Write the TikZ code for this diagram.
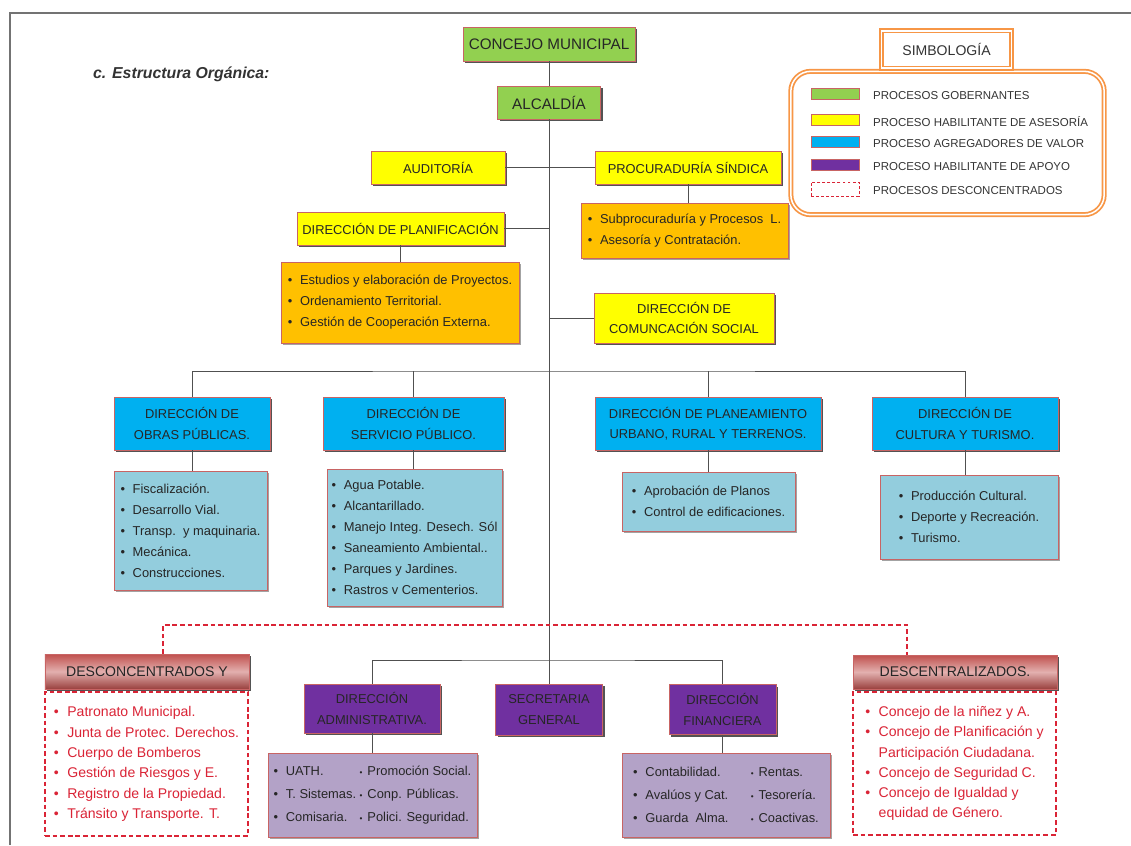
\documentclass[tikz,border=0pt]{standalone}
\usepackage{fontspec}
\setmainfont{Liberation Sans}
\usetikzlibrary{shadows}

\definecolor{verde}{HTML}{92D050}
\definecolor{amarillo}{HTML}{FFFF00}
\definecolor{naranja}{HTML}{FFC000}
\definecolor{azul}{HTML}{00B0F0}
\definecolor{celeste}{HTML}{93CDDD}
\definecolor{morado}{HTML}{7030A0}
\definecolor{lila}{HTML}{B3A2C7}
\definecolor{rojo}{HTML}{C0504D}
\definecolor{rojotxt}{HTML}{DA2436}
\definecolor{borde}{HTML}{C86464}
\definecolor{legnar}{HTML}{F79646}
\definecolor{gris}{HTML}{505050}

\newcommand{\itm}[1]{\makebox[0.95em][l]{\textbullet}#1}
\newcommand{\sitm}[1]{\makebox[0.6em][l]{\scriptsize\textbullet}#1}

\begin{document}
\begin{tikzpicture}[x=0.03cm, y=-0.03cm,
    cajabase/.style={draw=borde, line width=0.6pt, inner sep=2pt, text=black!85},
    caja/.style={cajabase, align=center, font=\fontsize{11}{17.5}\selectfont,
                drop shadow={shadow xshift=2pt, shadow yshift=-2pt, fill=black!75, opacity=0.9}},
    lista/.style={cajabase, align=left, font=\fontsize{11}{18}\selectfont,
                drop shadow={shadow xshift=1.5pt, shadow yshift=-1.5pt, fill=black!45, opacity=0.8}},
    cabecera/.style={caja, top color=rojo, bottom color=rojo!80!black, middle color=rojo!45!white,
                font=\fontsize{12}{14}\selectfont},
    rlista/.style={draw=rojotxt, line width=0.9pt, dash pattern=on 4pt off 2.5pt, fill=white,
                align=left, inner sep=2pt, text=rojotxt, font=\fontsize{12}{17.3}\selectfont},
    enlace/.style={draw=gris, line width=0.8pt},
    renlace/.style={draw=rojotxt, line width=0.9pt, dash pattern=on 4pt off 2.5pt}]
    \useasboundingbox (0,0) rectangle (1131,845);
    \draw[gris!80, line width=1.6pt] (10,845) -- (10,13) -- (1131,13);

    \node[anchor=west, text=black!80, font=\bfseries\itshape\fontsize{13.5}{16}\selectfont] (titulo) at (89,74) {c. Estructura Orgánica:};

    % simbologia
    \node[draw=legnar, double=white, double distance=1.3pt, line width=1.5pt, rounded corners=0.6cm,
          minimum width=9.4cm, minimum height=4.3cm] (simbologia-marco) at (947.5,143) {};
    \node[draw=legnar, double=white, double distance=1.3pt, line width=1.5pt, fill=white,
          minimum width=3.9cm, minimum height=1.12cm, font=\fontsize{12}{14}\selectfont, text=black!80] (simbologia) at (946.5,49.5) {SIMBOLOGÍA};
    \foreach \col/\yy/\txt [count=\n] in {verde/93.5/PROCESOS GOBERNANTES, amarillo/119.5/PROCESO HABILITANTE DE ASESORÍA,
                                          azul/142/PROCESO AGREGADORES DE VALOR, morado/164.5/PROCESO HABILITANTE DE APOYO} {
        \node[draw=borde, fill=\col, minimum width=1.44cm, minimum height=0.33cm, inner sep=0pt] (muestra\n) at (835,\yy) {};
        \node[anchor=west, text=black!80, font=\fontsize{9.8}{12}\selectfont] (leyenda\n) at (869,\yy+2) {\txt};
    }
    \node[draw=rojotxt, line width=0.8pt, dash pattern=on 2.5pt off 1.8pt, minimum width=1.44cm, minimum height=0.42cm] (muestra5) at (835,189.5) {};
    \node[anchor=west, text=black!80, font=\fontsize{9.8}{12}\selectfont] (leyenda5) at (869,191) {PROCESOS DESCONCENTRADOS};

    % procesos gobernantes y asesoria
    \node[caja, fill=verde, minimum width=5.16cm, minimum height=1.02cm, font=\fontsize{13}{15}\selectfont] (concejo) at (549,44) {CONCEJO MUNICIPAL};
    \node[caja, fill=verde, minimum width=3.09cm, minimum height=0.99cm, font=\fontsize{13}{15}\selectfont] (alcaldia) at (549,102.5) {ALCALDÍA};
    \node[caja, fill=amarillo, minimum width=4.02cm, minimum height=0.99cm] (auditoria) at (438,167.5) {AUDITORÍA};
    \node[caja, fill=amarillo, minimum width=5.58cm, minimum height=0.99cm] (procuraduria) at (688,167.5) {PROCURADURÍA SÍNDICA};
    \node[lista, fill=naranja, minimum width=6.21cm, minimum height=1.65cm] (procuraduria-sub) at (684.5,230.5)
        {\itm{Subprocuraduría y Procesos\ \ L.}\\\itm{Asesoría y Contratación.}};
    \node[caja, fill=amarillo, minimum width=6.21cm, minimum height=0.99cm] (planificacion) at (400.5,228.5) {DIRECCIÓN DE PLANIFICACIÓN};
    \node[lista, fill=naranja, minimum width=7.14cm, minimum height=2.43cm] (planificacion-sub) at (400,302.5)
        {\itm{Estudios y elaboración de Proyectos.}\\\itm{Ordenamiento Territorial.}\\\itm{Gestión de Cooperación Externa.}};
    \node[caja, fill=amarillo, minimum width=5.4cm, minimum height=1.5cm, font=\fontsize{11}{17}\selectfont] (comunicacion) at (684,318)
        {DIRECCIÓN DE\\COMUNCACIÓN SOCIAL};

    % agregadores de valor
    \node[caja, fill=azul, minimum width=4.68cm, minimum height=1.59cm] (obras) at (192,423.5) {DIRECCIÓN DE\\OBRAS PÚBLICAS.};
    \node[caja, fill=azul, minimum width=5.43cm, minimum height=1.59cm] (servicio) at (413.5,423.5) {DIRECCIÓN DE\\SERVICIO PÚBLICO.};
    \node[caja, fill=azul, minimum width=6.78cm, minimum height=1.59cm] (planeamiento) at (708,423.5) {DIRECCIÓN DE PLANEAMIENTO\\URBANO, RURAL Y TERRENOS.};
    \node[caja, fill=azul, minimum width=5.58cm, minimum height=1.59cm] (cultura) at (965,423.5) {DIRECCIÓN DE\\CULTURA Y TURISMO.};
    \node[lista, fill=celeste, minimum width=4.59cm, minimum height=3.57cm] (obras-sub) at (190.5,530.5)
        {\itm{Fiscalización.}\\\itm{Desarrollo Vial.}\\\itm{Transp.\ \ y maquinaria.}\\\itm{Mecánica.}\\\itm{Construcciones.}};
    \node[lista, fill=celeste, minimum width=5.25cm, minimum height=4.11cm] (servicio-sub) at (414.5,537.5)
        {\itm{Agua Potable.}\\\itm{Alcantarillado.}\\\itm{Manejo Integ. Desech. Sól}\\\itm{Saneamiento Ambiental..}\\\itm{Parques y Jardines.}\\\itm{Rastros v Cementerios.}};
    \node[lista, fill=celeste, minimum width=5.19cm, minimum height=1.77cm] (planeamiento-sub) at (708.5,501.5)
        {\itm{Aprobación de Planos}\\\itm{Control de edificaciones.}};
    \node[lista, fill=celeste, minimum width=5.34cm, minimum height=2.52cm] (cultura-sub) at (969,517)
        {\itm{Producción Cultural.}\\\itm{Deporte y Recreación.}\\\itm{Turismo.}};

    % apoyo
    \node[caja, fill=morado, minimum width=4.08cm, minimum height=1.47cm, font=\fontsize{11}{18}\selectfont] (administrativa) at (372,708.5) {DIRECCIÓN\\ADMINISTRATIVA.};
    \node[caja, fill=morado, minimum width=3.21cm, minimum height=1.53cm, font=\fontsize{11}{18}\selectfont] (secretaria) at (549,709.5) {SECRETARIA\\GENERAL};
    \node[caja, fill=morado, minimum width=3.21cm, minimum height=1.5cm, font=\fontsize{11}{18}\selectfont] (financiera) at (722.5,709.5) {DIRECCIÓN\\FINANCIERA};
    \node[lista, fill=lila, minimum width=6.27cm, minimum height=2.52cm, font=\fontsize{11}{19.6}\selectfont] (administrativa-sub) at (372.5,795)
        {\itm{\makebox[63pt][l]{UATH.}}\sitm{Promoción Social.}\\
         \itm{\makebox[63pt][l]{T. Sistemas.}}\sitm{Conp. Públicas.}\\
         \itm{\makebox[63pt][l]{Comisaria.}}\sitm{Polici. Seguridad.}};
    \node[lista, fill=lila, minimum width=6.24cm, minimum height=2.52cm, font=\fontsize{11}{19.6}\selectfont] (financiera-sub) at (726,795)
        {\itm{\makebox[90pt][l]{Contabilidad.}}\sitm{Rentas.}\\
         \itm{\makebox[90pt][l]{Avalúos y Cat.}}\sitm{Tesorería.}\\
         \itm{\makebox[90pt][l]{Guarda\ \ Alma.}}\sitm{Coactivas.}};

    % desconcentrados
    \node[rlista, minimum width=6.09cm, minimum height=4.32cm] (desconcentrados-sub) at (146.5,764)
        {\itm{Patronato Municipal.}\\\itm{Junta de Protec. Derechos.}\\\itm{Cuerpo de Bomberos}\\
         \itm{Gestión de Riesgos y E.}\\\itm{Registro de la Propiedad.}\\\itm{Tránsito y Transporte. T.}};
    \node[cabecera, minimum width=6.12cm, minimum height=1.05cm] (desconcentrados) at (147,671.5) {DESCONCENTRADOS Y};
    \node[rlista, minimum width=6.09cm, minimum height=4.29cm] (descentralizados-sub) at (954.5,763.5)
        {\itm{Concejo de la niñez y A.}\\\itm{Concejo de Planificación y}\\\hspace*{0.95em}Participación Ciudadana.\\
         \itm{Concejo de Seguridad C.}\\\itm{Concejo de Igualdad y}\\\hspace*{0.95em}equidad de Género.};
    \node[cabecera, minimum width=6.12cm, minimum height=1.02cm] (descentralizados) at (955,672) {DESCENTRALIZADOS.};

    % conexiones
    \foreach \a/\b in {concejo/alcaldia, alcaldia/secretaria, auditoria/procuraduria}
        \draw[enlace] (\a) -- (\b);
    \draw[enlace] (planificacion.east) -- (planificacion.east -| alcaldia);
    \draw[enlace] (comunicacion.west) -- (comunicacion.west -| alcaldia);
    \coordinate (bus1) at (549,371);
    \draw[enlace] (obras.north) |- (bus1) -| (cultura.north);
    \foreach \n in {servicio, planeamiento}
        \draw[enlace] (\n.north) -- (\n.north |- bus1);
    \coordinate (bus2) at (549,660);
    \draw[enlace] (administrativa.north) |- (bus2) -| (financiera.north);
    \foreach \n in {procuraduria, planificacion, obras, servicio, planeamiento, cultura, administrativa, financiera}
        \draw[enlace] (\n.south) -- (\n.south |- \n-sub.north);
    \coordinate (d1) at (163,625);
    \coordinate (d2) at (907,625);
    \draw[renlace] (d1 |- desconcentrados.north) -- (d1) -- (d2) -- (d2 |- descentralizados.north);
\end{tikzpicture}
\end{document}
